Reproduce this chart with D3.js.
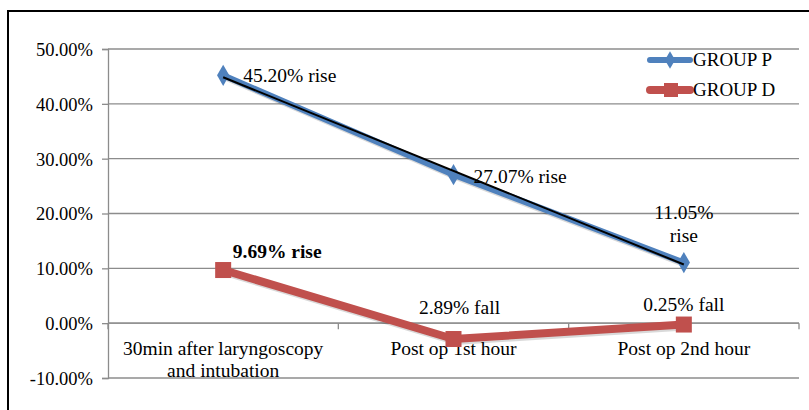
<!DOCTYPE html>
<html><head><meta charset="utf-8">
<script src="https://cdn.jsdelivr.net/npm/d3@7/dist/d3.min.js"></script>
</head><body style="margin:0;background:#fff">
<svg id="c" width="809" height="410" style="font-family:'Liberation Serif','Times New Roman',Tinos,serif"></svg>
<script>
const categories = [["30min after laryngoscopy","and intubation"],["Post op 1st hour"],["Post op 2nd hour"]];
const groupP = [45.20, 27.07, 11.05];
const groupD = [9.69, -2.89, -0.25];
const labelsP = [["45.20% rise"],["27.07% rise"],["11.05%","rise"]];
const labelsD = [["9.69% rise"],["2.89% fall"],["0.25% fall"]];
const yTicks = [-10, 0, 10, 20, 30, 40, 50];
const seriesNames = ["GROUP P","GROUP D"];

const FONT = "'Liberation Serif','Times New Roman',Tinos,serif";
const svg = d3.select("#c");
const blue = "#4F81BD", red = "#C0504D";
const x0 = 108, x1 = 799;
const y = d3.scaleLinear().domain([-10, 50]).range([378, 49]);
const xb = d3.scaleBand().domain(d3.range(categories.length)).range([x0, x1]);
const xc = i => xb(i) + xb.bandwidth()/2;
const txt = (sel) => sel.style("font-family", FONT).attr("fill","#000");

// outer border
svg.append("line").attr("x1",7).attr("x2",809).attr("y1",11).attr("y2",11).attr("stroke","#000").attr("stroke-width",2);
svg.append("line").attr("x1",8).attr("x2",8).attr("y1",10).attr("y2",410).attr("stroke","#000").attr("stroke-width",2);

// gridlines
svg.append("g").selectAll("line").data(yTicks).join("line")
  .attr("x1",x0).attr("x2",x1).attr("y1",d=>y(d)).attr("y2",d=>y(d))
  .attr("stroke","#8c8c8c").attr("stroke-width",1.3);

// y axis
const yAxis = d3.axisLeft(y).tickValues(yTicks).tickSize(6).tickFormat(d=>d.toFixed(2)+"%");
const gy = svg.append("g").attr("transform",`translate(${x0},0)`).call(yAxis);
gy.attr("font-family",null).style("font-family",FONT).attr("font-size",18);
gy.select(".domain").attr("stroke","#8c8c8c").attr("stroke-width",1.3);
gy.selectAll(".tick line").attr("stroke","#8c8c8c").attr("stroke-width",1.3);
gy.selectAll(".tick text").call(txt).style("font-size","18.5px").attr("x",-15).attr("dy","0.35em");

// x axis at zero
const xAxisG = svg.append("g");
xAxisG.append("line").attr("x1",x0).attr("x2",x1).attr("y1",y(0)).attr("y2",y(0)).attr("stroke","#8c8c8c").attr("stroke-width",1.3);
const bounds = d3.range(categories.length+1).map(i => i < categories.length ? xb(i) : x1);
xAxisG.selectAll("line.tk").data(bounds).join("line").attr("class","tk")
  .attr("x1",d=>d).attr("x2",d=>d).attr("y1",y(0)).attr("y2",y(0)+6).attr("stroke","#8c8c8c").attr("stroke-width",1.3);
categories.forEach((c,i)=>{
  c.forEach((t,j)=>{
    svg.append("text").attr("x",xc(i)).attr("y",355+j*22).attr("text-anchor","middle")
      .call(txt).style("font-size","19.5px").text(t);
  });
});

// trendline for group P (linear fit)
const n = groupP.length, xs = d3.range(n);
const mx = d3.mean(xs), my = d3.mean(groupP);
const slope = d3.sum(xs, i => (i-mx)*(groupP[i]-my)) / d3.sum(xs, i => (i-mx)*(i-mx));
const icp = my - slope*mx;

// faux shadows + series lines
const line = d3.line().x((d,i)=>xc(i)).y(d=>y(d));
svg.append("path").datum(groupD).attr("d",line).attr("transform","translate(1.5,2)").attr("fill","none").attr("stroke","#000").attr("stroke-opacity",0.15).attr("stroke-width",8).attr("stroke-linejoin","round");
svg.append("path").datum(groupD).attr("d",line).attr("fill","none").attr("stroke",red).attr("stroke-width",8).attr("stroke-linejoin","round");
svg.append("path").datum(groupP).attr("d",line).attr("transform","translate(1.5,2)").attr("fill","none").attr("stroke","#000").attr("stroke-opacity",0.15).attr("stroke-width",6).attr("stroke-linejoin","round");
svg.append("path").datum(groupP).attr("d",line).attr("fill","none").attr("stroke",blue).attr("stroke-width",6).attr("stroke-linejoin","round");

// markers
svg.append("g").selectAll("rect").data(groupD).join("rect")
  .attr("x",(d,i)=>xc(i)-8).attr("y",d=>y(d)-8).attr("width",16).attr("height",16).attr("fill",red);
svg.append("g").selectAll("path").data(groupP).join("path")
  .attr("d",d3.symbol().type(d3.symbolDiamond).size(130))
  .attr("transform",(d,i)=>`translate(${xc(i)},${y(d)})`).attr("fill",blue);

// trendline
svg.append("line").attr("x1",xc(0)).attr("y1",y(icp)).attr("x2",xc(n-1)).attr("y2",y(icp+slope*(n-1)))
  .attr("stroke","#000").attr("stroke-width",2);

// data labels
const lpP = [{dx:20,dy:7,a:"start"},{dx:20,dy:8,a:"start"},{dx:0,dy:-44,a:"middle"}];
labelsP.forEach((lab,i)=>{
  lab.forEach((t,j)=>svg.append("text").attr("x",xc(i)+lpP[i].dx).attr("y",y(groupP[i])+lpP[i].dy+j*23)
    .attr("text-anchor",lpP[i].a).call(txt).style("font-size","19.5px").text(t));
});
const lpD = [{dx:54,dy:-12,w:"bold"},{dx:6,dy:-25,w:"normal"},{dx:0,dy:-14,w:"normal"}];
labelsD.forEach((lab,i)=>{
  svg.append("text").attr("x",xc(i)+lpD[i].dx).attr("y",y(groupD[i])+lpD[i].dy)
    .attr("text-anchor","middle").call(txt).style("font-size","19.5px").style("font-weight",lpD[i].w).text(lab[0]);
});

// legend
const lg = svg.append("g");
[[blue,0],[red,1]].forEach(([col,k])=>{
  const ly = 60 + k*30;
  lg.append("line").attr("x1",650).attr("x2",690).attr("y1",ly).attr("y2",ly).attr("stroke",col).attr("stroke-width",k?8:6).attr("stroke-linecap","round");
  if(k) lg.append("rect").attr("x",664).attr("y",ly-7).attr("width",14).attr("height",14).attr("fill",col);
  else lg.append("path").attr("d",d3.symbol().type(d3.symbolDiamond).size(90)).attr("transform",`translate(670,${ly})`).attr("fill",col);
  lg.append("text").attr("x",693).attr("y",ly+6).call(txt).style("font-size","19px").text(seriesNames[k]);
});
</script>
</body></html>
